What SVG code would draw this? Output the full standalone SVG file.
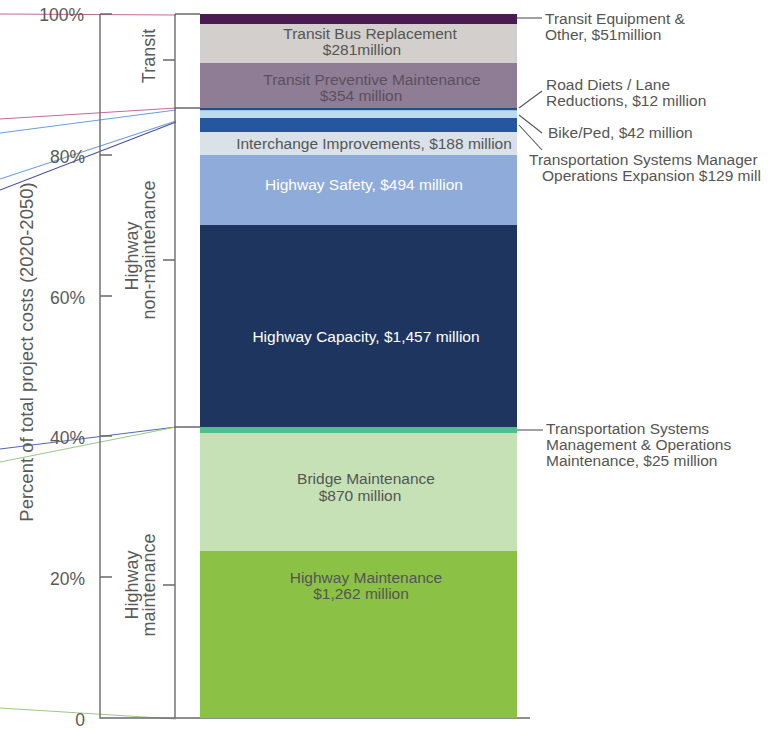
<svg xmlns="http://www.w3.org/2000/svg" width="768" height="729" viewBox="0 0 768 729">
<style>
text{font-family:"Liberation Sans",Arial,sans-serif;fill:#555}
.bl{font-size:15.5px;text-anchor:middle}
.wh{fill:#ffffff}
.rl{font-size:15.5px}
.tk{font-size:17.5px;text-anchor:end;fill:#5a5a5a}
.cat{font-size:18px;text-anchor:middle;fill:#5a5a5a}
.ax{stroke:#6a6a6a;stroke-width:1.4;fill:none}
.ld{stroke:#555;stroke-width:1.1;fill:none}
.cn{stroke-width:1.1;fill:none}
</style>
<rect width="768" height="729" fill="#ffffff"/>
<g id="connectors">
<line class="cn" x1="0" y1="14" x2="176" y2="15" stroke="#c6679e"/>
<line class="cn" x1="0" y1="119" x2="176" y2="108" stroke="#c6679e"/>
<line class="cn" x1="0" y1="133" x2="176" y2="110" stroke="#6a9fdc"/>
<line class="cn" x1="0" y1="179" x2="176" y2="121" stroke="#6a9fdc"/>
<line class="cn" x1="0" y1="190" x2="176" y2="122" stroke="#4a4a9c"/>
<line class="cn" x1="0" y1="449" x2="176" y2="427" stroke="#5068b4"/>
<line class="cn" x1="0" y1="462" x2="176" y2="427" stroke="#9cc88a"/>
<line class="cn" x1="0" y1="708" x2="176" y2="719" stroke="#9cc88a"/>
<line class="ld" x1="517" y1="18" x2="542" y2="18"/>
<line class="ld" x1="519" y1="108" x2="542" y2="91"/>
<line class="ld" x1="519" y1="115" x2="542" y2="133"/>
<line class="ld" x1="519" y1="125" x2="542" y2="150"/>
<line class="ld" x1="517" y1="430" x2="543" y2="430"/>
</g>
<g id="axes">
<path class="ax" d="M100,14 V718 H530"/>
<path class="ax" d="M100,14 H112 M100,155 H112 M100,296 H112 M100,436 H112 M100,577 H112"/>
<path class="ax" d="M175,14 V718"/>
<path class="ax" d="M175,14 H200 M175,108 H200 M175,427 H200"/>
<path class="ax" d="M163,60 H175 M163,260 H175 M163,585 H175"/>
<text class="tk" x="84" y="21">100%</text>
<text class="tk" x="85" y="163">80%</text>
<text class="tk" x="85" y="304">60%</text>
<text class="tk" x="85" y="444">40%</text>
<text class="tk" x="85" y="585">20%</text>
<text class="tk" x="85" y="726">0</text>
<text class="cat" transform="translate(33,352) rotate(-90)" style="font-size:18.5px">Percent of total project costs (2020-2050)</text>
</g>
<g id="cat-transit">
<text class="cat" transform="translate(155,56) rotate(-90)">Transit</text>
</g>
<g id="cat-nonmaint">
<text class="cat" transform="translate(138,250) rotate(-90)"><tspan x="-6" y="0">Highway</tspan><tspan x="0" y="17">non-maintenance</tspan></text>
</g>
<g id="cat-maint">
<text class="cat" transform="translate(138,585) rotate(-90)"><tspan x="0" y="0">Highway</tspan><tspan x="0" y="17">maintenance</tspan></text>
</g>
<g id="transit-equipment">
<rect x="200" y="14" width="317" height="10" fill="#4b1a52"/>
<text class="rl"><tspan x="545" y="24">Transit Equipment &amp;</tspan><tspan x="545" y="40">Other, $51million</tspan></text>
</g>
<g id="transit-bus">
<rect x="200" y="24" width="317" height="39" fill="#d2cfcc"/>
<text class="bl"><tspan x="370" y="39">Transit Bus Replacement</tspan><tspan x="362" y="55">$281million</tspan></text>
</g>
<g id="transit-preventive">
<rect x="200" y="63" width="317" height="45" fill="#8f7d95"/>
<text class="bl" style="fill:#595060"><tspan x="372" y="85">Transit Preventive Maintenance</tspan><tspan x="361" y="101">$354 million</tspan></text>
</g>
<g id="road-diets">
<rect x="200" y="108" width="317" height="2.5" fill="#1f4f8f"/>
<text class="rl"><tspan x="546" y="90">Road Diets / Lane</tspan><tspan x="546" y="106">Reductions, $12 million</tspan></text>
</g>
<g id="bike-ped">
<rect x="200" y="110.5" width="317" height="7.5" fill="#bcdaf0"/>
<text class="rl" x="548" y="138">Bike/Ped, $42 million</text>
</g>
<g id="tsmo-expansion">
<rect x="200" y="118" width="317" height="14" fill="#2556a0"/>
<text class="rl"><tspan x="529" y="165">Transportation Systems Manager</tspan><tspan x="542" y="181">Operations Expansion $129 mill</tspan></text>
</g>
<g id="interchange">
<rect x="200" y="132" width="317" height="23" fill="#d9e1e9"/>
<text class="bl" x="374" y="149">Interchange Improvements, $188 million</text>
</g>
<g id="highway-safety">
<rect x="200" y="155" width="317" height="70" fill="#8eabd9"/>
<text class="bl wh" x="364" y="190">Highway Safety, $494 million</text>
</g>
<g id="highway-capacity">
<rect x="200" y="225" width="317" height="202" fill="#1e365f"/>
<text class="bl wh" x="366" y="342">Highway Capacity, $1,457 million</text>
</g>
<g id="tsmo-maintenance">
<rect x="200" y="427" width="317" height="6" fill="#4dbe8c"/>
<text class="rl"><tspan x="546" y="434">Transportation Systems</tspan><tspan x="546" y="450">Management &amp; Operations</tspan><tspan x="546" y="466">Maintenance, $25 million</tspan></text>
</g>
<g id="bridge-maintenance">
<rect x="200" y="433" width="317" height="118" fill="#c5e1b5"/>
<text class="bl"><tspan x="366" y="484">Bridge Maintenance</tspan><tspan x="360" y="501">$870 million</tspan></text>
</g>
<g id="highway-maintenance">
<rect x="200" y="551" width="317" height="167" fill="#8bc144"/>
<text class="bl"><tspan x="366" y="583">Highway Maintenance</tspan><tspan x="361" y="599">$1,262 million</tspan></text>
</g>
</svg>
